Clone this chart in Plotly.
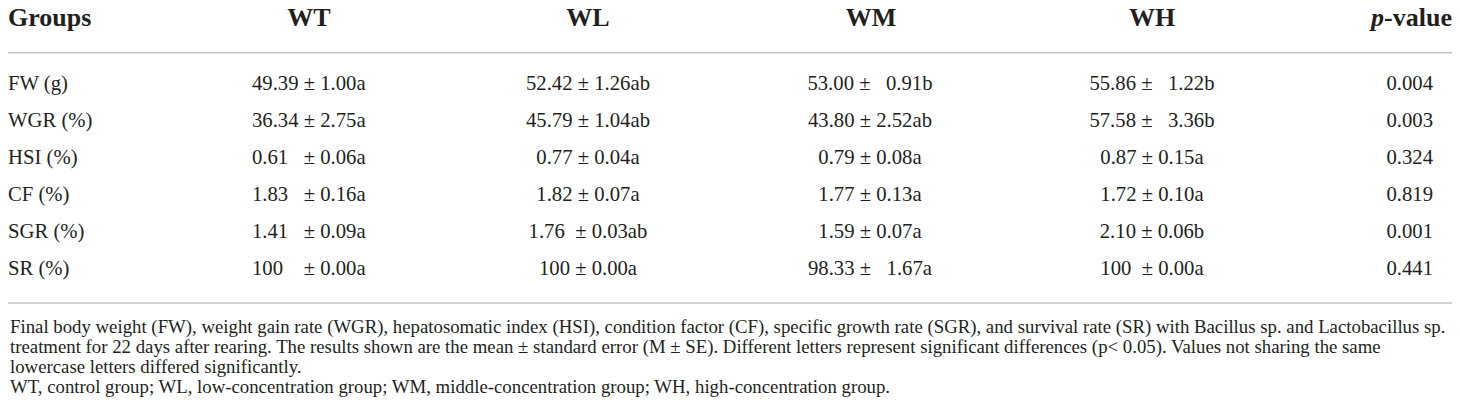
import plotly.graph_objects as go

# table content
groups = ["FW (g)", "WGR (%)", "HSI (%)", "CF (%)", "SGR (%)", "SR (%)"]
headers = ["Groups", "WT", "WL", "WM", "WH", "<i>p</i>-value"]

nb = "\u00a0"
wt = ["49.39 ± 1.00a", "36.34 ± 2.75a", "0.61" + nb * 3 + "± 0.06a",
      "1.83" + nb * 3 + "± 0.16a", "1.41" + nb * 3 + "± 0.09a", "100" + nb * 4 + "± 0.00a"]
wl = ["52.42 ± 1.26ab", "45.79 ± 1.04ab", "0.77 ± 0.04a",
      "1.82 ± 0.07a", "1.76" + nb * 2 + "± 0.03ab", "100 ± 0.00a"]
wm = ["53.00 ±" + nb * 3 + "0.91b", "43.80 ± 2.52ab", "0.79 ± 0.08a",
      "1.77 ± 0.13a", "1.59 ± 0.07a", "98.33 ±" + nb * 3 + "1.67a"]
wh = ["55.86 ±" + nb * 3 + "1.22b", "57.58 ±" + nb * 3 + "3.36b", "0.87 ± 0.15a",
      "1.72 ± 0.10a", "2.10 ± 0.06b", "100" + nb * 2 + "± 0.00a"]
p_values = ["0.004", "0.003", "0.324", "0.819", "0.001", "0.441"]

footnotes = [
    "Final body weight (FW), weight gain rate (WGR), hepatosomatic index (HSI), condition factor (CF), "
    "specific growth rate (SGR), and survival rate (SR) with Bacillus sp. and Lactobacillus sp.",
    "treatment for 22 days after rearing. The results shown are the mean ± standard error (M ± SE). "
    "Different letters represent significant differences (p< 0.05). Values not sharing the same",
    "lowercase letters differed significantly.",
    "WT, control group; WL, low-concentration group; WM, middle-concentration group; WH, high-concentration group.",
]

FONT = "Liberation Serif"
INK = "#231f20"
RULE = "#c4c4c4"

# the page body has an 8px margin, so the axes span page pixels 8..1460 / 8..420
PAGE_W, PAGE_H, BODY = 1460, 420, 8

row_top, row_step = 85, 37
header_y = 19
rows_y = [row_top + i * row_step for i in range(len(groups))]

# (cells, x, textposition) for each column
columns = [
    (groups, 8, "middle right"),
    (wt, 252, "middle right"),
    (wl, 588, "middle center"),
    (wm, 870, "middle center"),
    (wh, 1152, "middle center"),
    (p_values, 1433, "middle left"),
]
header_pos = [(8, "middle right"), (309, "middle center"), (588, "middle center"),
              (871, "middle center"), (1152, "middle center"), (1452, "middle left")]

fig = go.Figure()

for cells, x, pos in columns:
    fig.add_trace(go.Scatter(
        x=[x] * len(cells), y=rows_y, text=cells, mode="text",
        textposition=pos, textfont=dict(family=FONT, size=20.7, color=INK),
        cliponaxis=False, hoverinfo="skip", showlegend=False))

fig.add_trace(go.Scatter(
    x=[p[0] for p in header_pos], y=[header_y] * len(headers),
    text=["<b>%s</b>" % h for h in headers], mode="text",
    textposition=[p[1] for p in header_pos],
    textfont=dict(family=FONT, size=26, color=INK),
    cliponaxis=False, hoverinfo="skip", showlegend=False))

# horizontal rules
for y in [52.7, 303]:
    fig.add_shape(type="line", x0=0, x1=1452, y0=y, y1=y, xref="x", yref="y",
                  line=dict(color=RULE, width=1.5))

foot_y = [327, 347, 366, 386]
for txt, y in zip(footnotes, foot_y):
    fig.add_annotation(x=8, y=y, xref="x", yref="y", text=txt, showarrow=False,
                       xanchor="left", yanchor="middle",
                       font=dict(family=FONT, size=18.8, color=INK))

fig.update_layout(
    width=PAGE_W - BODY, height=PAGE_H - BODY,
    margin=dict(l=0, r=0, t=0, b=0),
    paper_bgcolor="white", plot_bgcolor="white",
    xaxis=dict(range=[BODY, PAGE_W], visible=False, fixedrange=True),
    yaxis=dict(range=[PAGE_H, BODY], visible=False, fixedrange=True),
)

fig.write_html("out.html")
